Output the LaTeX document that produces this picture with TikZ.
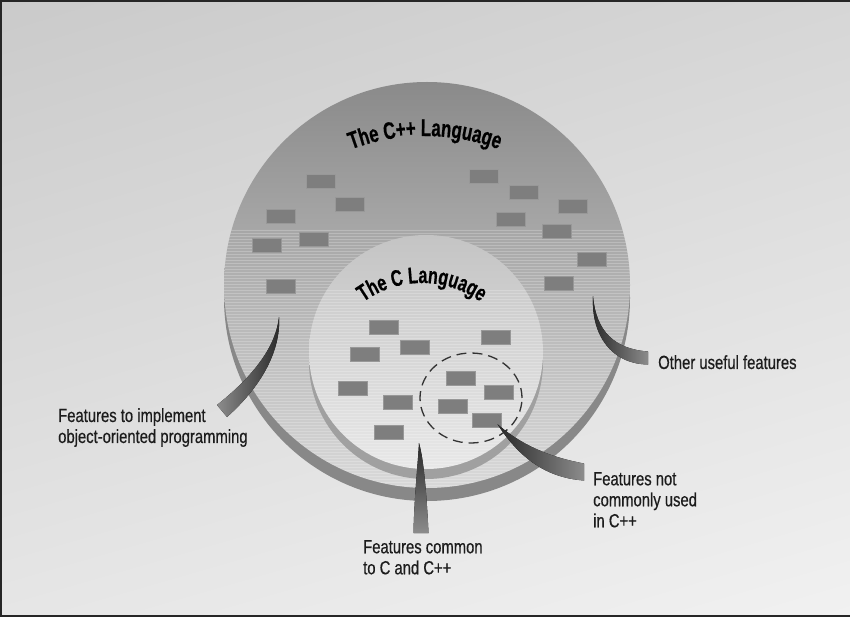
\documentclass[tikz,border=0pt]{standalone}
\usepackage{fontspec}
\usepackage{tikz}
\usetikzlibrary{positioning, calc, shapes.geometric, shadings, decorations.text}
\newfontfamily\labelfont[FakeStretch=0.78, FakeBold=0.5]{Liberation Sans}
\newfontfamily\titlefont[FakeStretch=0.7, FakeBold=0.6]{Liberation Sans Bold}
\definecolor{bgtl}{RGB}{202,202,202}
\definecolor{bgtr}{RGB}{214,214,214}
\definecolor{bgbl}{RGB}{230,230,230}
\definecolor{bgbr}{RGB}{241,241,241}
\definecolor{cpptop}{RGB}{138,138,138}
\definecolor{cppmid}{RGB}{192,192,192}
\definecolor{cppbot}{RGB}{217,217,217}
\definecolor{cpprim}{RGB}{136,136,136}
\definecolor{ctop}{RGB}{196,196,196}
\definecolor{cmid}{RGB}{222,222,222}
\definecolor{cbot}{RGB}{232,232,232}
\definecolor{crim}{RGB}{160,160,160}
\definecolor{featgray}{RGB}{126,126,126}
\definecolor{leaddark}{RGB}{40,40,40}
\definecolor{leadlight}{RGB}{140,140,140}
\definecolor{labeltext}{RGB}{28,28,28}

\begin{document}
\begin{tikzpicture}[x=1pt, y=-1pt,
    feat/.style={rectangle, fill=featgray, draw=featgray!80!white, line width=0.5pt, minimum width=29pt, minimum height=14pt, inner sep=0pt},
    lbl/.style={anchor=north west, align=left, inner sep=0pt, text=labeltext, font=\labelfont\fontsize{19}{21}\selectfont},
    stripe/.style={white, line width=0.7pt, opacity=0.22},
    frame/.style={line width=2pt, draw=black!85}
]
\useasboundingbox (0,0) rectangle (850,617);
\shade[upper left=bgtl, upper right=bgtr, lower left=bgbl, lower right=bgbr] (0,0) rectangle (850,617);
\draw[frame] (850,1) -- (1,1) -- (1,616) -- (850,616);

\coordinate (cpp) at (427,285);
\coordinate (cc) at (426,352);

\fill[cpprim] ($(cpp)+(0,13)$) circle[radius=203];
\shade[top color=cpptop, middle color=cppmid, bottom color=cppbot] (cpp) circle[radius=203];
\begin{scope}
    \clip (cpp) circle[radius=203];
    \foreach \y in {230,233,...,490} \draw[stripe] (220,\y) -- (640,\y);
\end{scope}

\fill[crim] ($(cc)+(0,10)$) circle[radius=117];
\shade[top color=ctop, middle color=cmid, bottom color=cbot] (cc) circle[radius=117];
\begin{scope}
    \clip (cc) circle[radius=117];
    \foreach \y in {290,293,...,470} \draw[stripe] (300,\y) -- (550,\y);
\end{scope}

\foreach \x/\y [count=\i] in {321/181.5, 349.5/204.5, 280.5/216, 313.5/239, 267/245, 280.5/286.5,
    484/176, 523.5/192, 572.5/206.5, 511/219.5, 556.5/231.5, 592/259.5, 559/283,
    383.5/327.5, 415/347, 365/354.5, 495.5/337.5, 353/388.5, 397.5/402, 388.5/432.5,
    461/378.5, 498.5/392.5, 452.5/406, 487/420.5}
    \node[feat] (f\i) at (\x,\y) {};

\node[draw=black!80, dash pattern=on 10pt off 6pt, line width=1.3pt, ellipse, minimum width=102pt, minimum height=90pt, inner sep=0pt] (rare) at (471,398) {};

\coordinate (cpparc) at (425,346);
\coordinate (carc) at (422,383);
\path[decorate, decoration={text along path, text align=center,
    text={|\titlefont\fontsize{24}{26}\selectfont|The C++ Language}}]
    (cpparc) ++(235:210) arc[start angle=235, end angle=305, radius=210];
\path[decorate, decoration={text along path, text align=center,
    text={|\titlefont\fontsize{23}{25}\selectfont|The C Language}}]
    (carc) ++(210:100) arc[start angle=210, end angle=330, radius=100];

\node[lbl] (oop) at (58,408) {Features to implement\\object-oriented programming};
\node[lbl] (other) at (658,355) {Other useful features};
\node[lbl] (common) at (363,540) {Features common\\to C and C++};
\node[lbl] (notused) at (593,472) {Features not\\commonly used\\in C++};

\coordinate (oopS) at (279,317);
\coordinate (otherS) at (593,296);
\coordinate (commonS) at (419,443);
\coordinate (rareS) at ($(rare.south east)+(-10,-6)$);
\coordinate (oopE) at ($(oop.north west)+(164,3)$);
\coordinate (otherE) at ($(other.north west)+(-10,3)$);
\coordinate (commonE) at ($(common.north west)+(58,-7)$);
\coordinate (notusedE) at ($(notused.north west)+(-9,0)$);

\fill[left color=leadlight, right color=leaddark] (oopS) .. controls (276,345) and (256,374) .. ($(oopE)+(-5,-6)$)
    -- ($(oopE)+(5,6)$) .. controls (262,386) and (281,350) .. (oopS);
\fill[left color=leaddark, right color=leadlight] (otherS) .. controls (596,332) and (615,349) .. ($(otherE)+(0,-6.5)$)
    -- ($(otherE)+(0,6.5)$) .. controls (612,364) and (591,336) .. (otherS);
\fill[top color=leaddark, bottom color=leadlight] (commonS) .. controls (424,460) and (427,500) .. ($(commonE)+(7.5,0)$)
    -- ($(commonE)+(-7.5,0)$) .. controls (414,500) and (418,462) .. (commonS);
\fill[left color=leaddark, right color=leadlight] (rareS) .. controls (525,448) and (555,458) .. ($(notusedE)+(0,-8.5)$)
    -- ($(notusedE)+(0,8.5)$) .. controls (550,478) and (522,462) .. (rareS);
\end{tikzpicture}
\end{document}
